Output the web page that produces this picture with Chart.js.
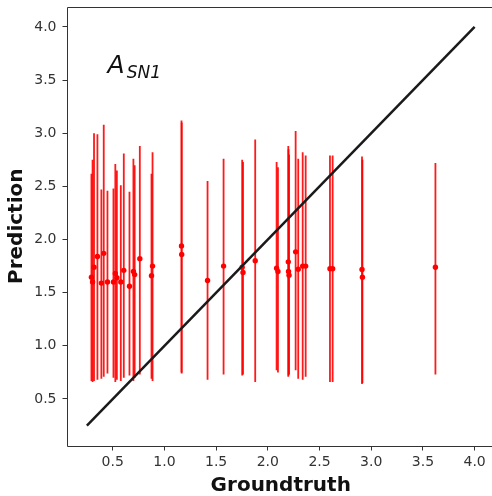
<!DOCTYPE html>
<html>
<head>
<meta charset="utf-8">
<script src="https://cdn.jsdelivr.net/npm/chart.js@4/dist/chart.umd.min.js"></script>
<style>
  html, body { margin: 0; padding: 0; background: #fff; overflow: hidden; }
  #outer { width: 492px; height: 496px; overflow: hidden; }
  #wrap { width: 500px; height: 496px; position: relative; }
</style>
</head>
<body>
<div id="outer"><div id="wrap"><canvas id="chart"></canvas></div></div>
<script>
// groundtruth (x), prediction (y) and the error bar bounds
const groundtruth = [0.294, 0.305, 0.319, 0.352, 0.39, 0.413, 0.449, 0.507, 0.525, 0.54,
  0.578, 0.607, 0.662, 0.70, 0.712, 0.762, 0.875, 0.885, 1.165, 1.167,
  1.417, 1.572, 1.752, 1.76, 1.878, 2.085, 2.098, 2.198, 2.20, 2.205,
  2.269, 2.294, 2.337, 2.366, 2.601, 2.627, 2.911, 2.915, 3.621];
const prediction = [1.646, 1.60, 1.74, 1.84, 1.59, 1.87, 1.60, 1.60, 1.68, 1.64,
  1.60, 1.71, 1.56, 1.70, 1.67, 1.82, 1.66, 1.75, 1.94, 1.86,
  1.615, 1.75, 1.74, 1.69, 1.80, 1.73, 1.70, 1.79, 1.70, 1.665,
  1.884, 1.72, 1.75, 1.75, 1.725, 1.725, 1.718, 1.646, 1.74];
const lowerBound = [0.67, 0.66, 0.67, 0.68, 0.69, 0.71, 0.74, 0.70, 0.66, 0.68,
  0.67, 0.70, 0.72, 0.67, 0.70, 0.73, 0.69, 0.67, 0.75, 0.74,
  0.68, 0.73, 0.72, 0.73, 0.66, 0.77, 0.75, 0.71, 0.72, 0.73,
  0.77, 0.69, 0.68, 0.71, 0.66, 0.66, 0.64, 0.65, 0.73];
const upperBound = [2.62, 2.75, 3.00, 2.99, 2.47, 3.08, 2.46, 2.48, 2.71, 2.65,
  2.51, 2.81, 2.45, 2.76, 2.70, 2.88, 2.62, 2.82, 3.12, 3.10,
  2.55, 2.76, 2.75, 2.73, 2.94, 2.73, 2.68, 2.88, 2.85, 2.80,
  3.02, 2.76, 2.82, 2.79, 2.79, 2.79, 2.78, 2.75, 2.72];
const identityLine = [0.25, 4.0];
const tickValues = [0.5, 1.0, 1.5, 2.0, 2.5, 3.0, 3.5, 4.0];
const axisMin = 0.0625;
const axisMax = 4.1875;

const FONT = "'DejaVu Sans', 'Liberation Sans', sans-serif";

// one small line dataset per error bar
const errorBars = groundtruth.map((g, i) => ({
  data: [{ x: g, y: lowerBound[i] }, { x: g, y: upperBound[i] }],
  showLine: true,
  borderColor: 'rgba(255,0,0,0.9)',
  borderWidth: 1.8,
  pointRadius: 0,
  order: 3
}));

// left, bottom and top spines; the right one falls outside the picture
const framePlugin = {
  id: 'frame',
  afterDraw(chart) {
    const { ctx, chartArea: a, scales } = chart;
    ctx.save();
    ctx.strokeStyle = '#333';
    ctx.lineWidth = 1;
    ctx.beginPath();
    ctx.moveTo(Math.round(a.left) - 0.5, Math.round(a.top) + 0.5);
    ctx.lineTo(Math.round(a.left) - 0.5, Math.round(a.bottom) + 0.5);
    ctx.lineTo(Math.round(a.right) + 0.5, Math.round(a.bottom) + 0.5);
    ctx.moveTo(Math.round(a.left) - 0.5, Math.round(a.top) + 0.5);
    ctx.lineTo(Math.round(a.right) + 0.5, Math.round(a.top) + 0.5);
    ctx.stroke();

    // A_SN1 annotation
    const tx = scales.x.getPixelForValue(0.45);
    const ty = scales.y.getPixelForValue(3.565);
    ctx.fillStyle = '#111';
    ctx.textBaseline = 'alphabetic';
    ctx.font = 'italic 25px ' + FONT;
    ctx.fillText('A', tx, ty);
    const w = ctx.measureText('A').width;
    ctx.font = 'italic 17px ' + FONT;
    ctx.fillText('SN1', tx + w + 2, ty + 5);
    ctx.restore();
  }
};

const setTicks = (scale) => { scale.ticks = tickValues.map(v => ({ value: v })); };
const noPad = (s) => { s.paddingTop = 0; s.paddingBottom = 0; s.paddingLeft = 0; s.paddingRight = 0; };

new Chart(document.getElementById('chart'), {
  type: 'scatter',
  data: {
    datasets: [
      {
        data: identityLine.map(v => ({ x: v, y: v })),
        showLine: true,
        borderColor: '#1a1a1a',
        borderWidth: 2.5,
        pointRadius: 0,
        order: 0
      },
      {
        data: groundtruth.map((g, i) => ({ x: g, y: prediction[i] })),
        backgroundColor: '#ff0000',
        borderColor: '#ff0000',
        pointRadius: 2.7,
        borderWidth: 0,
        order: 1
      },
      ...errorBars
    ]
  },
  options: {
    responsive: true,
    maintainAspectRatio: false,
    animation: false,
    layout: { autoPadding: false, padding: { top: 7, right: 6, left: 0, bottom: 0 } },
    plugins: { legend: { display: false }, tooltip: { enabled: false } },
    scales: {
      x: {
        type: 'linear',
        min: axisMin,
        max: axisMax,
        afterBuildTicks: setTicks,
        afterFit: (s) => { s.height = 50.5; noPad(s); },
        border: { display: false },
        grid: { drawOnChartArea: false, drawTicks: true, tickLength: 5, tickColor: '#333' },
        ticks: {
          padding: 3,
          color: '#333',
          font: { family: FONT, size: 14 },
          callback: (v) => Number(v).toFixed(1)
        },
        title: {
          display: true,
          text: 'Groundtruth',
          color: '#111',
          padding: { top: 0, bottom: 0 },
          font: { family: FONT, size: 20, weight: 'bold', lineHeight: 1 }
        }
      },
      y: {
        type: 'linear',
        min: axisMin,
        max: axisMax,
        afterBuildTicks: setTicks,
        afterFit: (s) => { s.width = 67.5; noPad(s); },
        border: { display: false },
        grid: { drawOnChartArea: false, drawTicks: true, tickLength: 5, tickColor: '#333' },
        ticks: {
          padding: 6,
          color: '#333',
          font: { family: FONT, size: 14 },
          callback: (v) => Number(v).toFixed(1)
        },
        title: {
          display: true,
          text: 'Prediction',
          color: '#111',
          padding: { top: 7, bottom: 0 },
          font: { family: FONT, size: 20, weight: 'bold', lineHeight: 1 }
        }
      }
    }
  },
  plugins: [framePlugin]
});
</script>
</body>
</html>
